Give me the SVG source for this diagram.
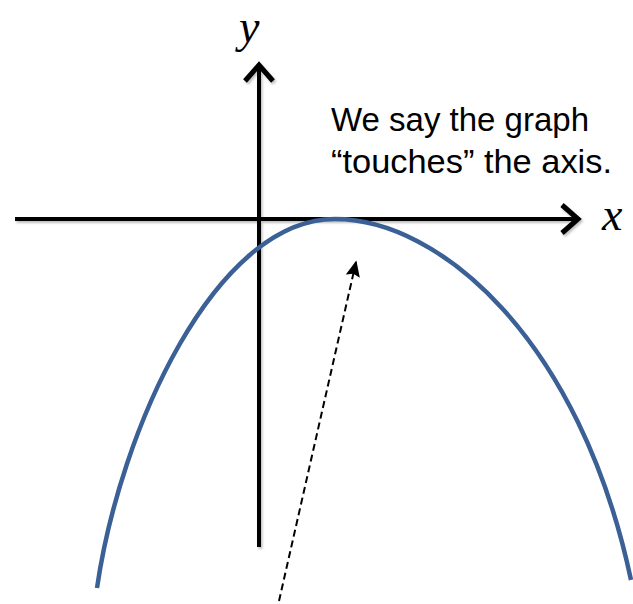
<svg xmlns="http://www.w3.org/2000/svg" width="633" height="604" viewBox="0 0 633 604">
<style>
.axis{stroke:#000;stroke-width:4;fill:none;stroke-linecap:butt}
.head{stroke:#000;stroke-width:5;fill:none;stroke-linejoin:miter;stroke-linecap:butt}
.curve{stroke:#3b6096;stroke-width:4.5;fill:none}
.lbl{font-family:"Liberation Serif","DejaVu Serif",serif;font-style:italic;font-size:46px;fill:#000}
.note{font-family:"Liberation Sans","Open Sans",sans-serif;font-size:34px;fill:#000}
.dash{stroke:#000;stroke-width:2;stroke-dasharray:7,4;fill:none}
</style>
<defs>
<filter id="sh" x="-10%" y="-10%" width="120%" height="120%">
<feDropShadow dx="1.5" dy="2" stdDeviation="1.2" flood-color="#000" flood-opacity="0.25"/>
</filter>
<marker id="tri" viewBox="0 0 10 10" refX="9" refY="5" markerWidth="16" markerHeight="16" markerUnits="userSpaceOnUse" orient="auto">
<path d="M0,0.5 L10,5 L0,9.5 L1.5,5 z" fill="#000"/>
</marker>
</defs>
<g id="axes" filter="url(#sh)">
<g id="x-axis">
<line class="axis" x1="15" y1="219" x2="577" y2="219"/>
<polyline class="head" points="562,205 578,219 562,233"/>
</g>
<g id="y-axis">
<line class="axis" x1="259" y1="547" x2="259" y2="65"/>
<polyline class="head" points="245,81 259,65 273,81"/>
</g>
</g>
<g id="curve">
<path class="curve" d="M97,588 C120,430 215,219 335,219 C440,219 580,340 631,580"/>
</g>
<g id="labels">
<text class="lbl" x="239" y="42">y</text>
<text class="lbl" x="602" y="230">x</text>
</g>
<g id="note">
<text class="note" x="331" y="131" textLength="258" lengthAdjust="spacingAndGlyphs">We say the graph</text>
<text class="note" x="331" y="173" textLength="281" lengthAdjust="spacingAndGlyphs">“touches” the axis.</text>
</g>
<g id="connectors">
<line class="dash" x1="279" y1="601" x2="356" y2="262" marker-end="url(#tri)"/>
</g>
</svg>
